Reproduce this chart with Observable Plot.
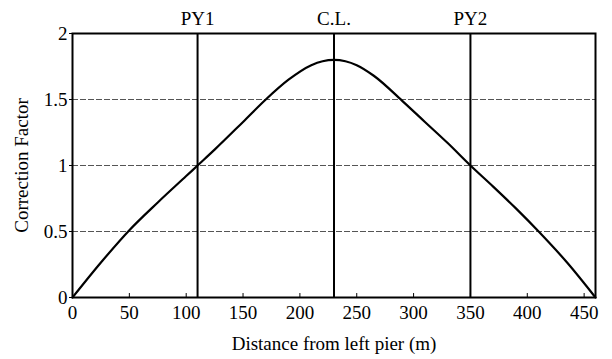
<!DOCTYPE html>
<html><head><meta charset="utf-8">
<script src="https://cdn.jsdelivr.net/npm/d3@7"></script>
<script src="https://cdn.jsdelivr.net/npm/@observablehq/plot@0.6"></script>
<style>
body{margin:0;background:#fff}
#chart svg{display:block;background:#fff}
</style>
</head><body><div id="chart"></div>
<script>
const distance = [0, 25, 50, 75, 100, 110, 125, 150, 170, 190, 210, 220, 230, 240, 250, 265, 290, 310, 330, 350, 370, 390, 410, 435, 460];
const factor   = [0, 0.265, 0.51, 0.72, 0.92, 1.0, 1.12, 1.33, 1.5, 1.65, 1.76, 1.79, 1.8, 1.79, 1.76, 1.68, 1.49, 1.33, 1.17, 1.0, 0.84, 0.675, 0.5, 0.265, 0];
const markerNames = ["PY1", "C.L.", "PY2"];
const markerPositions = [110, 230, 350];
const xTicks = [0, 50, 100, 150, 200, 250, 300, 350, 400, 450];
const yTicks = [0, 0.5, 1, 1.5, 2];
const yTickLabels = ["0", "0.5", "1", "1.5", "2"];
const gridValues = [0.5, 1, 1.5];

const data = distance.map((d, i) => ({distance: d, factor: factor[i]}));
const FONT = "Liberation Serif, Times New Roman, serif";

const chart = Plot.plot({
  width: 612,
  height: 359,
  marginLeft: 72,
  marginRight: 17,
  marginTop: 33,
  marginBottom: 62,
  x: {domain: [0, 460]},
  y: {domain: [0, 2]},
  marks: [
    Plot.ruleY(gridValues, {stroke: "#555", strokeWidth: 1, strokeDasharray: "6,2"}),
    Plot.ruleX(xTicks, {y1: 0, y2: 0.03, stroke: "black", strokeWidth: 1}),
    Plot.ruleX(markerPositions, {stroke: "black", strokeWidth: 2}),
    Plot.line(data, {x: "distance", y: "factor", stroke: "black", strokeWidth: 2.2, curve: "monotone-x"}),
    Plot.frame({stroke: "black", strokeWidth: 2}),
    Plot.axisX({ticks: xTicks, tickSize: 0, tickPadding: 8, fontSize: 19, label: "Distance from left pier (m)", labelAnchor: "center", labelArrow: "none", labelOffset: 52}),
    Plot.axisY({ticks: yTicks, tickFormat: (d, i) => yTickLabels[i], tickSize: 3, tickPadding: 2, fontSize: 19, label: "Correction Factor", labelAnchor: "center", labelArrow: "none", labelOffset: 58}),
    Plot.text(markerNames, {x: (d, i) => markerPositions[i], text: d => d, frameAnchor: "top", dy: -22, fontSize: 19})
  ]
});
chart.setAttribute("font-family", FONT);
chart.setAttribute("font-size", "19");
chart.querySelectorAll("text").forEach(el => {
  el.setAttribute("font-family", FONT);
  el.setAttribute("fill", "black");
});
document.getElementById("chart").append(chart);
</script>
</body></html>
